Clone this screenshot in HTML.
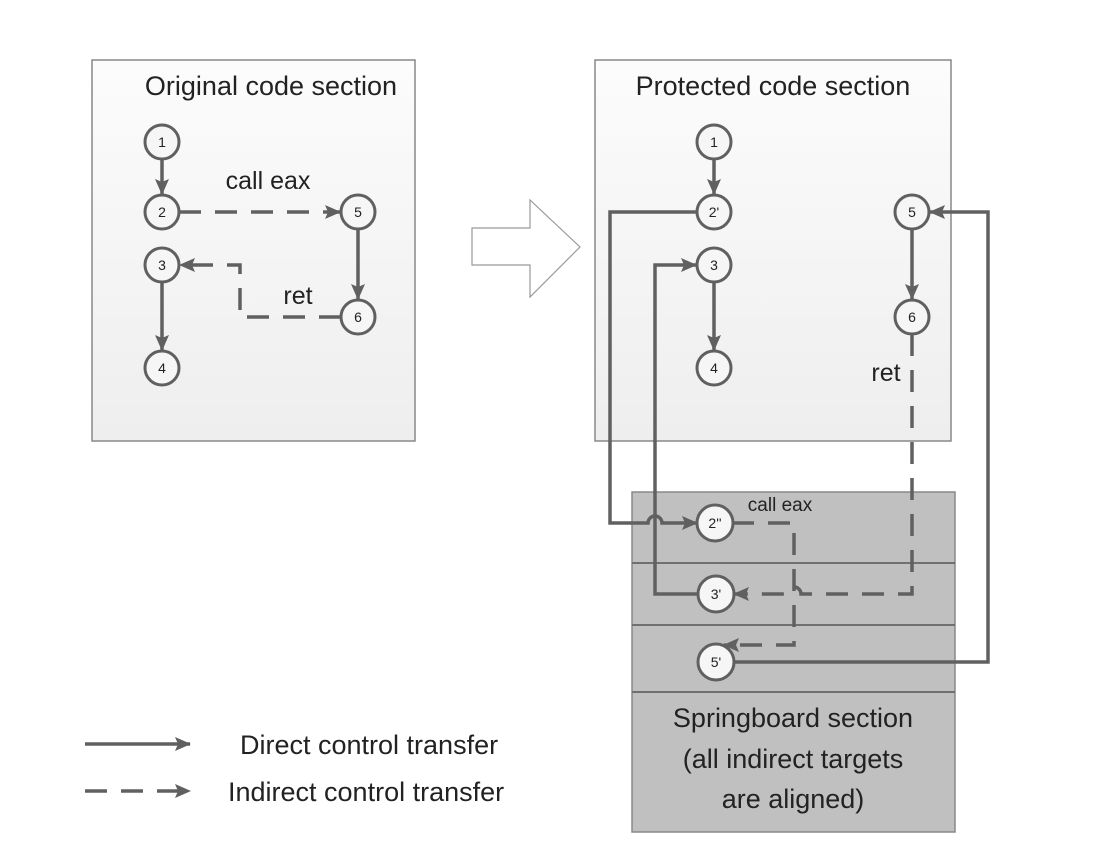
<!DOCTYPE html>
<html><head><style>
body{margin:0;background:#fff;}
svg{display:block;font-family:"Liberation Sans","DejaVu Sans",sans-serif;}
</style></head><body>
<svg width="1104" height="862" viewBox="0 0 1104 862" xmlns="http://www.w3.org/2000/svg">
<defs>
<linearGradient id="g" x1="0" y1="0" x2="0" y2="1"><stop offset="0" stop-color="#fcfcfc"/><stop offset="1" stop-color="#eeeeee"/></linearGradient>
<marker id="a" markerWidth="10" markerHeight="10" refX="9" refY="5" orient="auto" markerUnits="userSpaceOnUse"><path d="M0,0 L10,5 L0,10 Z" fill="#606060"/></marker>
<marker id="b" markerWidth="16" markerHeight="14" refX="15" refY="7" orient="auto" markerUnits="userSpaceOnUse"><path d="M0,0 L16,7 L0,14 L3,7 Z" fill="#606060"/></marker>
</defs>
<rect x="92" y="60" width="323" height="381" fill="url(#g)" stroke="#888" stroke-width="1.5"/>
<rect x="595" y="60" width="356" height="381" fill="url(#g)" stroke="#888" stroke-width="1.5"/>
<text x="271" y="95" font-size="27" text-anchor="middle" fill="#222">Original code section</text>
<text x="773" y="95" font-size="27" text-anchor="middle" fill="#222">Protected code section</text>
<polygon points="472,228 530,228 530,200 580,247 530,297 530,265 472,265" fill="#fff" stroke="#999" stroke-width="1.2"/>
<rect x="632" y="492" width="323" height="340" fill="#c0c0c0" stroke="#888" stroke-width="1.5"/>
<g stroke="#707070" stroke-width="2"><line x1="632" y1="563" x2="955" y2="563"/><line x1="632" y1="625" x2="955" y2="625"/><line x1="632" y1="692" x2="955" y2="692"/></g>
<text x="793" y="727" font-size="27" text-anchor="middle" fill="#222">Springboard section</text>
<text x="793" y="768" font-size="27" text-anchor="middle" fill="#222">(all indirect targets</text>
<text x="793" y="808" font-size="27" text-anchor="middle" fill="#222">are aligned)</text>
<g fill="none" stroke="#606060" stroke-width="3.5">
<!-- left -->
<line x1="162" y1="159" x2="162" y2="194" marker-end="url(#b)"/>
<line x1="162" y1="282" x2="162" y2="350" marker-end="url(#b)"/>
<line x1="358" y1="229" x2="358" y2="299" marker-end="url(#b)"/>
<line x1="179" y1="212" x2="340" y2="212" stroke-dasharray="22,14" marker-end="url(#b)"/>
<path d="M341,317 L240,317 L240,265 L180,265" stroke-dasharray="22,14" marker-end="url(#b)"/>
<!-- right -->
<line x1="714" y1="159" x2="714" y2="194" marker-end="url(#b)"/>
<line x1="714" y1="282" x2="714" y2="350" marker-end="url(#b)"/>
<line x1="912" y1="229" x2="912" y2="299" marker-end="url(#b)"/>
<path d="M697,212 L610,212 L610,523 L648,523 A7,7 0 0 1 662,523 L697,523" marker-end="url(#b)"/>
<path d="M699,594 L655,594 L655,265 L696,265" marker-end="url(#b)"/>
<path d="M733,662 L988,662 L988,212 L930,212" marker-end="url(#b)"/>
<path d="M912,334 L912,594 L801,594 A7,7 0 0 0 787,594 L734,594" stroke-dasharray="22,14" marker-end="url(#b)"/>
<path d="M732,523 L794,523 L794,645 L724,645" stroke-dasharray="22,14" marker-end="url(#b)"/>
<!-- legend -->
<line x1="85" y1="744" x2="190" y2="744" marker-end="url(#b)"/>
<line x1="85" y1="791" x2="190" y2="791" stroke-dasharray="22,14" marker-end="url(#b)"/>
</g>
<g stroke="#606060" stroke-width="3" fill="#f6f6f6">
<circle cx="162" cy="142" r="17"/><circle cx="162" cy="212" r="17"/><circle cx="358" cy="212" r="17"/>
<circle cx="162" cy="265" r="17"/><circle cx="358" cy="317" r="17"/><circle cx="162" cy="368" r="17"/>
<circle cx="714" cy="142" r="17"/><circle cx="714" cy="212" r="17"/><circle cx="714" cy="265" r="17"/>
<circle cx="714" cy="368" r="17"/><circle cx="912" cy="212" r="17"/><circle cx="912" cy="317" r="17"/>
<circle cx="715" cy="523" r="18"/><circle cx="716" cy="594" r="18"/><circle cx="716" cy="662" r="18"/>
</g>
<g font-size="14" text-anchor="middle" fill="#222">
<text x="162" y="147">1</text><text x="162" y="217">2</text><text x="358" y="217">5</text>
<text x="162" y="270">3</text><text x="358" y="322">6</text><text x="162" y="373">4</text>
<text x="714" y="147">1</text><text x="714" y="217">2'</text><text x="714" y="270">3</text>
<text x="714" y="373">4</text><text x="912" y="217">5</text><text x="912" y="322">6</text>
<text x="715" y="528">2''</text><text x="716" y="599">3'</text><text x="716" y="667">5'</text>
</g>
<g fill="#222">
<text x="268" y="189" font-size="25" text-anchor="middle">call eax</text>
<text x="298" y="304" font-size="25" text-anchor="middle">ret</text>
<text x="886" y="381" font-size="25" text-anchor="middle">ret</text>
<text x="780" y="511" font-size="19" text-anchor="middle">call eax</text>
<text x="240" y="754" font-size="27">Direct control transfer</text>
<text x="228" y="801" font-size="27">Indirect control transfer</text>
</g>
</svg>
</body></html>
